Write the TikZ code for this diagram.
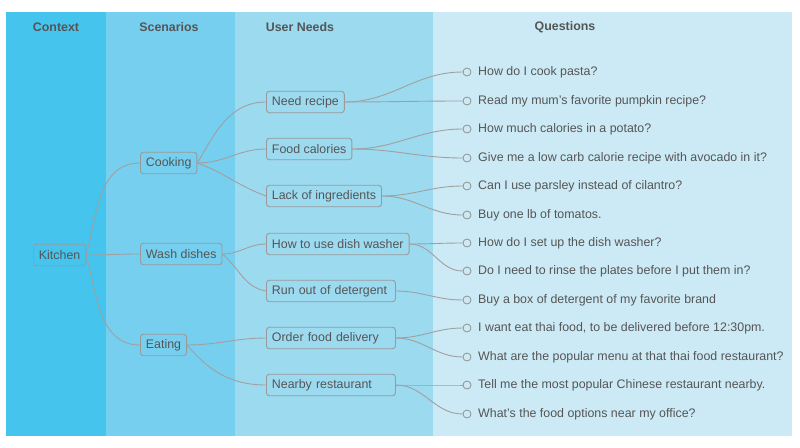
\documentclass[tikz,border=0pt]{standalone}
\usepackage{fontspec}
\setmainfont{Liberation Sans}
\begin{document}
\begin{tikzpicture}[x=1pt,y=-1pt,
  txt/.style={text=txtc,font=\fontsize{12.4}{14}\selectfont},
  hdr/.style={text=txtc,font=\fontsize{12.4}{14}\selectfont\bfseries},
  box/.style={txt,draw=boxc,line width=0.9pt,rounded corners=3pt,inner xsep=5.5pt,inner ysep=0pt,minimum height=21.5pt,anchor=west},
  wbox/.style={box,text width=118pt,align=left},
  dot/.style={circle,draw=dotc,line width=0.8pt,fill=c4,inner sep=0pt,minimum size=8pt},
  qtxt/.style={txt,anchor=west,inner sep=0pt},
  link/.style={draw=linec,line width=0.9pt}
]
\definecolor{c1}{HTML}{45C4EE}
\definecolor{c2}{HTML}{76CFEE}
\definecolor{c3}{HTML}{9CDAF0}
\definecolor{c4}{HTML}{CCEAF5}
\definecolor{txtc}{HTML}{555555}
\definecolor{boxc}{HTML}{9A9A9A}
\definecolor{linec}{HTML}{A0A0A0}
\definecolor{dotc}{HTML}{909090}
\useasboundingbox (0,0) rectangle (800,447);
\fill[white] (0,0) rectangle (800,447);
% bands
\fill[c1] (6,12) rectangle (106,436);
\fill[c2] (106,12) rectangle (235,436);
\fill[c3] (235,12) rectangle (433,436);
\fill[c4] (433,12) rectangle (792,436);
\begin{scope}[shift={(0,1)}]
% headers
\node[hdr] (h1) at (56,26.5) {Context};
\node[hdr] (h2) at (169,26.5) {Scenarios};
\node[hdr] (h3) at (300,26.5) {User Needs};
\node[hdr] (h4) at (565,26.5) {Questions};
% nodes
\node[box] (kit) at (33,254) {Kitchen};
\node[box] (cook) at (140,162) {Cooking};
\node[box] (wash) at (140,253) {Wash dishes};
\node[box] (eat) at (140,344) {Eating};
\node[box] (n1) at (266,101) {Need recipe};
\node[box] (n2) at (266,148) {Food calories};
\node[box] (n3) at (266,195) {Lack of ingredients};
\node[box] (n4) at (266,243) {How to use dish washer};
\node[wbox] (n5) at (266,290) {Run out of detergent};
\node[wbox] (n6) at (266,337) {Order food delivery};
\node[wbox] (n7) at (266,384) {Nearby restaurant};
% questions
\foreach \i/\y/\t in {1/71/{How do I cook pasta?},
  2/100/{Read my mum’s favorite pumpkin recipe?},
  3/128/{How much calories in a potato?},
  4/157/{Give me a low carb calorie recipe with avocado in it?},
  5/185/{Can I use parsley instead of cilantro?},
  6/214/{Buy one lb of tomatos.},
  7/242/{How do I set up the dish washer?},
  8/270/{Do I need to rinse the plates before I put them in?},
  9/299/{Buy a box of detergent of my favorite brand},
  10/327/{I want eat thai food, to be delivered before 12:30pm.},
  11/356/{What are the popular menu at that thai food restaurant?},
  12/384/{Tell me the most popular Chinese restaurant nearby.},
  13/413/{What’s the food options near my office?}}{
  \node[dot] (d\i) at (467,\y) {};
  \node[qtxt] (q\i) at (478,\y) {\t};
}
% links
\path[link] (kit.east) to[out=75,in=180] (cook.west);
\path[link] (kit.east) to[out=0,in=180] (wash.west);
\path[link] (kit.east) to[out=-75,in=180] (eat.west);
\path[link] (cook.east) to[out=60,in=180] (n1.west);
\path[link] (cook.east) to[out=0,in=180] (n2.west);
\path[link] (cook.east) to[out=-20,in=160] (n3.west);
\path[link] (wash.east) to[out=0,in=180] (n4.west);
\path[link] (wash.east) to[out=-40,in=170] (n5.west);
\path[link] (eat.east) to[out=0,in=180] (n6.west);
\path[link] (eat.east) to[out=-50,in=180] (n7.west);
\foreach \n/\a/\b in {n1/1/2,n2/3/4,n3/5/6,n4/7/8,n6/10/11,n7/12/13}{
  \path[link] (\n.east) to[out=0,in=180] (d\a.west);
  \path[link] (\n.east) to[out=0,in=180] (d\b.west);
}
\path[link] (n5.east) to[out=0,in=180] (d9.west);
\end{scope}
\end{tikzpicture}
\end{document}
